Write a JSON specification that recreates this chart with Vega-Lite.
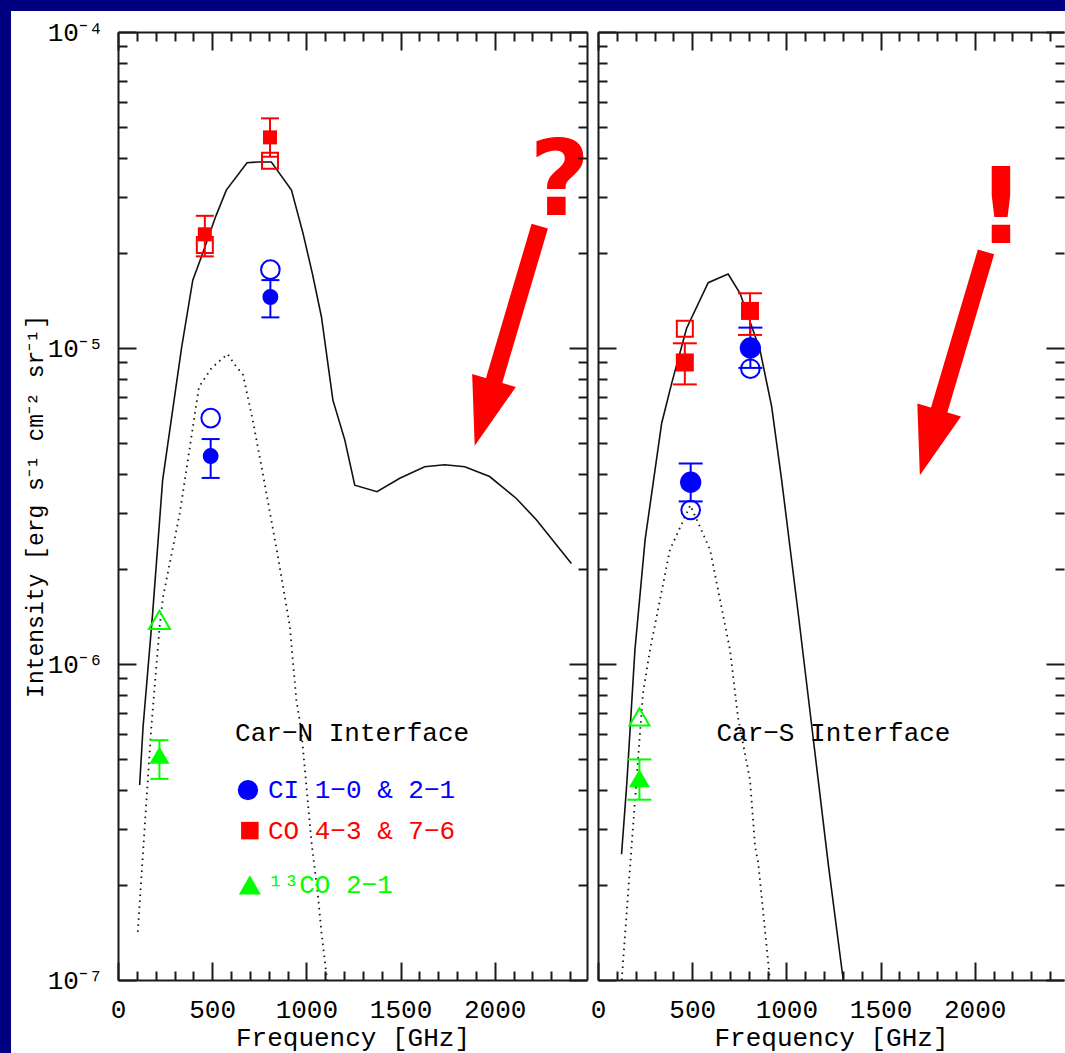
{
  "$schema": "https://vega.github.io/schema/vega-lite/v6.json",
  "background": "#000080",
  "padding": {"left": 11, "top": 11, "right": 0, "bottom": 0},
  "bounds": "flush",
  "spacing": 11,
  "config": {"view": {"stroke": null}},
  "datasets": {
    "solidN": [
      {"f": 115, "I": 4.14e-7}, {"f": 133, "I": 6.32e-7}, {"f": 184, "I": 1.449e-6}, {"f": 237, "I": 3.82e-6},
      {"f": 337, "I": 9.98e-6}, {"f": 397, "I": 1.64e-5}, {"f": 443, "I": 1.945e-5}, {"f": 519, "I": 2.61e-5},
      {"f": 575, "I": 3.16e-5}, {"f": 685, "I": 3.855e-5}, {"f": 743, "I": 3.88e-5}, {"f": 814, "I": 3.88e-5},
      {"f": 921, "I": 3.16e-5}, {"f": 982, "I": 2.31e-5}, {"f": 1032, "I": 1.72e-5}, {"f": 1080, "I": 1.256e-5},
      {"f": 1141, "I": 6.84e-6}, {"f": 1204, "I": 5.12e-6}, {"f": 1257, "I": 3.68e-6}, {"f": 1375, "I": 3.51e-6},
      {"f": 1496, "I": 3.87e-6}, {"f": 1628, "I": 4.21e-6}, {"f": 1734, "I": 4.27e-6}, {"f": 1841, "I": 4.21e-6},
      {"f": 1973, "I": 3.92e-6}, {"f": 2115, "I": 3.34e-6}, {"f": 2221, "I": 2.86e-6}, {"f": 2407, "I": 2.08e-6}
    ],
    "dotN": [
      {"f": 105, "I": 1.42e-7}, {"f": 177, "I": 6.32e-7}, {"f": 221, "I": 1.31e-6}, {"f": 239, "I": 1.63e-6},
      {"f": 328, "I": 3.0e-6}, {"f": 430, "I": 7.53e-6}, {"f": 497, "I": 8.65e-6}, {"f": 582, "I": 9.57e-6},
      {"f": 619, "I": 8.87e-6}, {"f": 664, "I": 8.22e-6}, {"f": 717, "I": 5.85e-6}, {"f": 770, "I": 3.97e-6},
      {"f": 849, "I": 2.19e-6}, {"f": 912, "I": 1.32e-6}, {"f": 947, "I": 7.69e-7}, {"f": 974, "I": 6.1e-7},
      {"f": 1027, "I": 2.74e-7}, {"f": 1062, "I": 1.84e-7}, {"f": 1080, "I": 1.42e-7}, {"f": 1110, "I": 1.0e-7}
    ],
    "solidS": [
      {"f": 125, "I": 2.5e-7}, {"f": 153, "I": 4.19e-7}, {"f": 196, "I": 1.107e-6}, {"f": 250, "I": 2.47e-6},
      {"f": 338, "I": 5.78e-6}, {"f": 391, "I": 7.73e-6}, {"f": 470, "I": 1.153e-5}, {"f": 585, "I": 1.61e-5},
      {"f": 691, "I": 1.714e-5}, {"f": 754, "I": 1.49e-5}, {"f": 860, "I": 9.86e-6}, {"f": 922, "I": 6.52e-6},
      {"f": 975, "I": 3.82e-6}, {"f": 1019, "I": 2.35e-6}, {"f": 1063, "I": 1.445e-6}, {"f": 1116, "I": 7.89e-7},
      {"f": 1169, "I": 4.3e-7}, {"f": 1222, "I": 2.34e-7}, {"f": 1302, "I": 1.0e-7}
    ],
    "dotS": [
      {"f": 126, "I": 1.0e-7}, {"f": 178, "I": 2.64e-7}, {"f": 239, "I": 8.09e-7}, {"f": 276, "I": 1.107e-6},
      {"f": 382, "I": 2.3e-6}, {"f": 490, "I": 3.18e-6}, {"f": 595, "I": 2.3e-6}, {"f": 701, "I": 1.107e-6},
      {"f": 743, "I": 6.79e-7}, {"f": 807, "I": 4.3e-7}, {"f": 834, "I": 2.64e-7}, {"f": 851, "I": 2.34e-7},
      {"f": 913, "I": 1.0e-7}
    ],
    "ptsN": [
      {"sp": "CI", "filled": true, "f": 809, "I": 1.45e-5, "lo": 1.25e-5, "hi": 1.64e-5},
      {"sp": "CI", "filled": false, "f": 809, "I": 1.77e-5},
      {"sp": "CI", "filled": true, "f": 492, "I": 4.55e-6, "lo": 3.88e-6, "hi": 5.15e-6},
      {"sp": "CI", "filled": false, "f": 492, "I": 6.0e-6},
      {"sp": "CO", "filled": true, "f": 461, "I": 2.29e-5, "lo": 1.95e-5, "hi": 2.62e-5},
      {"sp": "CO", "filled": false, "f": 461, "I": 2.12e-5},
      {"sp": "CO", "filled": true, "f": 807, "I": 4.64e-5, "lo": 4.03e-5, "hi": 5.33e-5},
      {"sp": "CO", "filled": false, "f": 807, "I": 3.91e-5},
      {"sp": "13CO", "filled": true, "f": 220, "I": 5.15e-7, "lo": 4.33e-7, "hi": 5.74e-7},
      {"sp": "13CO", "filled": false, "f": 220, "I": 1.38e-6}
    ],
    "ptsS": [
      {"sp": "CI", "filled": true, "f": 809, "I": 1.0e-5, "lo": 8.65e-6, "hi": 1.16e-5},
      {"sp": "CI", "filled": false, "f": 809, "I": 8.6e-6},
      {"sp": "CI", "filled": true, "f": 492, "I": 3.76e-6, "lo": 3.27e-6, "hi": 4.31e-6},
      {"sp": "CI", "filled": false, "f": 492, "I": 3.07e-6},
      {"sp": "CO", "filled": true, "f": 461, "I": 9.0e-6, "lo": 7.67e-6, "hi": 1.035e-5},
      {"sp": "CO", "filled": false, "f": 461, "I": 1.15e-5},
      {"sp": "CO", "filled": true, "f": 807, "I": 1.31e-5, "lo": 1.1e-5, "hi": 1.49e-5},
      {"sp": "13CO", "filled": true, "f": 220, "I": 4.35e-7, "lo": 3.72e-7, "hi": 4.99e-7},
      {"sp": "13CO", "filled": false, "f": 220, "I": 6.8e-7}
    ],
    "legendN": [
      {"sp": "CI", "label": "CI 1−0 & 2−1", "f": 690, "tf": 796, "I": 3.99e-7},
      {"sp": "CO", "label": "CO 4−3 & 7−6", "f": 700, "tf": 796, "I": 2.97e-7},
      {"sp": "13CO", "label": "¹³CO 2−1", "f": 700, "tf": 796, "I": 2.0e-7}
    ],
    "annotN": [
      {"kind": "label", "text": "Car−N Interface", "f": 1243, "I": 6.05e-7},
      {"kind": "big", "text": "?", "f": 2345, "I": 2.64e-5}
    ],
    "annotS": [
      {"kind": "label", "text": "Car−S Interface", "f": 1250, "I": 6.05e-7},
      {"kind": "big", "text": "!", "f": 2139, "I": 2.149e-5}
    ],
    "arrowN": [{"f": 2239, "I": 2.43e-5, "f2": 1981, "I2": 7.33e-6, "hf": 1945, "hI": 6.22e-6}],
    "arrowS": [{"f": 2060, "I": 2.014e-5, "f2": 1796, "I2": 5.93e-6, "hf": 1760, "hI": 5.02e-6}]
  },
  "hconcat": [
    {
      "width": 469,
      "height": 948,
      "resolve": {"axis": {"x": "independent", "y": "independent"}, "scale": {"size": "independent"}},
      "layer": [
        {
          "data": {"values": [{}]},
          "mark": {"type": "rect", "color": "#ffffff"},
          "encoding": {
            "x": {"datum": -568, "type": "quantitative", "scale": {"domain": [0, 2490], "nice": false, "zero": false}, "axis": null},
            "x2": {"datum": 5028},
            "y": {"datum": 1.1653e-4, "type": "quantitative", "scale": {"type": "log", "domain": [1e-7, 1e-4], "nice": false}, "axis": null},
            "y2": {"datum": 5.87e-8}
          }
        },
        {
          "data": {"name": "solidN"},
          "mark": {"type": "line", "color": "#111111", "strokeWidth": 1.6},
          "encoding": {
            "x": {"field": "f", "type": "quantitative", "scale": {"domain": [0, 2490], "nice": false, "zero": false},
              "axis": {"orient": "bottom", "values": [0, 500, 1000, 1500, 2000], "format": "d", "tickSize": -18, "tickWidth": 2, "tickColor": "#1a1a1a", "domain": true, "domainWidth": 2, "domainColor": "#1a1a1a", "grid": false, "labelFont": "Liberation Mono", "labelFontSize": 26, "labelColor": "#000000", "labelPadding": 34, "labelBaseline": "top", "labelFlush": false, "labelOverlap": false, "title": "Frequency [GHz]", "titleFont": "Liberation Mono", "titleFontSize": 26, "titleFontWeight": "normal", "titleColor": "#000000", "titlePadding": 2, "zindex": 1}},
            "y": {"field": "I", "type": "quantitative", "scale": {"type": "log", "domain": [1e-7, 1e-4], "nice": false},
              "axis": {"orient": "left", "values": [1e-7, 1e-6, 1e-5, 1e-4], "tickSize": -18, "tickWidth": 2, "tickColor": "#1a1a1a", "domain": true, "domainWidth": 2, "domainColor": "#1a1a1a", "grid": false, "labelExpr": "datum.value > 5e-5 ? '10⁻⁴' : datum.value > 5e-6 ? '10⁻⁵' : datum.value > 5e-7 ? '10⁻⁶' : '10⁻⁷'", "labelFont": "Liberation Mono", "labelFontSize": 26, "labelColor": "#000000", "labelPadding": 33, "labelAlign": "right", "labelBaseline": "middle", "labelOverlap": false, "title": "Intensity [erg s⁻¹ cm⁻² sr⁻¹]", "titleFont": "Liberation Mono", "titleFontSize": 23, "titleFontWeight": "normal", "titleColor": "#000000", "titlePadding": 0, "zindex": 1}}
          }
        },
        {
          "data": {"name": "dotN"},
          "mark": {"type": "line", "color": "#111111", "strokeWidth": 1.8, "strokeDash": [1.5, 4.5]},
          "encoding": {
            "x": {"field": "f", "type": "quantitative", "scale": {"domain": [0, 2490], "nice": false, "zero": false},
              "axis": {"orient": "bottom", "values": [100, 200, 300, 400, 600, 700, 800, 900, 1100, 1200, 1300, 1400, 1600, 1700, 1800, 1900, 2100, 2200, 2300, 2400], "tickSize": -9, "tickWidth": 2, "tickColor": "#1a1a1a", "domain": false, "labels": false, "grid": false, "title": null, "zindex": 1}},
            "y": {"field": "I", "type": "quantitative", "scale": {"type": "log", "domain": [1e-7, 1e-4], "nice": false},
              "axis": {"orient": "left", "values": [2e-7, 3e-7, 4e-7, 5e-7, 6e-7, 7e-7, 8e-7, 9e-7, 2e-6, 3e-6, 4e-6, 5e-6, 6e-6, 7e-6, 8e-6, 9e-6, 2e-5, 3e-5, 4e-5, 5e-5, 6e-5, 7e-5, 8e-5, 9e-5], "tickSize": -9, "tickWidth": 2, "tickColor": "#1a1a1a", "domain": false, "labels": false, "grid": false, "title": null, "zindex": 1}}
          }
        },
        {
          "data": {"name": "ptsN"},
          "transform": [{"filter": "isValid(datum.lo)"}],
          "mark": {"type": "rule", "strokeWidth": 2},
          "encoding": {
            "x": {"field": "f", "type": "quantitative", "scale": {"domain": [0, 2490], "nice": false, "zero": false},
              "axis": {"orient": "top", "values": [0, 500, 1000, 1500, 2000], "tickSize": -18, "tickWidth": 2, "tickColor": "#1a1a1a", "domain": true, "domainWidth": 2, "domainColor": "#1a1a1a", "labels": false, "grid": false, "title": null, "zindex": 1}},
            "y": {"field": "lo", "type": "quantitative", "scale": {"type": "log", "domain": [1e-7, 1e-4], "nice": false},
              "axis": {"orient": "right", "values": [1e-7, 1e-6, 1e-5, 1e-4], "tickSize": -18, "tickWidth": 2, "tickColor": "#1a1a1a", "domain": true, "domainWidth": 2, "domainColor": "#1a1a1a", "labels": false, "grid": false, "title": null, "zindex": 1}},
            "y2": {"field": "hi"},
            "color": {"field": "sp", "type": "nominal", "scale": {"domain": ["CI", "CO", "13CO"], "range": ["#0000ff", "#ff0000", "#00ff00"]}, "legend": null}
          }
        },
        {
          "data": {"name": "ptsN"},
          "transform": [{"filter": "isValid(datum.hi)"}],
          "mark": {"type": "tick", "orient": "horizontal", "size": 18, "thickness": 2, "opacity": 1},
          "encoding": {
            "x": {"field": "f", "type": "quantitative", "scale": {"domain": [0, 2490], "nice": false, "zero": false},
              "axis": {"orient": "top", "values": [100, 200, 300, 400, 600, 700, 800, 900, 1100, 1200, 1300, 1400, 1600, 1700, 1800, 1900, 2100, 2200, 2300, 2400], "tickSize": -9, "tickWidth": 2, "tickColor": "#1a1a1a", "domain": false, "labels": false, "grid": false, "title": null, "zindex": 1}},
            "y": {"field": "hi", "type": "quantitative", "scale": {"type": "log", "domain": [1e-7, 1e-4], "nice": false},
              "axis": {"orient": "right", "values": [2e-7, 3e-7, 4e-7, 5e-7, 6e-7, 7e-7, 8e-7, 9e-7, 2e-6, 3e-6, 4e-6, 5e-6, 6e-6, 7e-6, 8e-6, 9e-6, 2e-5, 3e-5, 4e-5, 5e-5, 6e-5, 7e-5, 8e-5, 9e-5], "tickSize": -9, "tickWidth": 2, "tickColor": "#1a1a1a", "domain": false, "labels": false, "grid": false, "title": null, "zindex": 1}},
            "color": {"field": "sp", "type": "nominal", "scale": {"domain": ["CI", "CO", "13CO"], "range": ["#0000ff", "#ff0000", "#00ff00"]}, "legend": null}
          }
        },
        {
          "data": {"name": "ptsN"},
          "transform": [{"filter": "isValid(datum.lo)"}],
          "mark": {"type": "tick", "orient": "horizontal", "size": 18, "thickness": 2, "opacity": 1},
          "encoding": {
            "x": {"field": "f", "type": "quantitative", "scale": {"domain": [0, 2490], "nice": false, "zero": false}, "axis": null},
            "y": {"field": "lo", "type": "quantitative", "scale": {"type": "log", "domain": [1e-7, 1e-4], "nice": false}, "axis": null},
            "color": {"field": "sp", "type": "nominal", "scale": {"domain": ["CI", "CO", "13CO"], "range": ["#0000ff", "#ff0000", "#00ff00"]}, "legend": null}
          }
        },
        {
          "data": {"name": "ptsN"},
          "transform": [{"filter": "!datum.filled"}],
          "mark": {"type": "point", "filled": false, "strokeWidth": 2, "opacity": 1},
          "encoding": {
            "x": {"field": "f", "type": "quantitative", "scale": {"domain": [0, 2490], "nice": false, "zero": false}, "axis": null},
            "y": {"field": "I", "type": "quantitative", "scale": {"type": "log", "domain": [1e-7, 1e-4], "nice": false}, "axis": null},
            "color": {"field": "sp", "type": "nominal", "scale": {"domain": ["CI", "CO", "13CO"], "range": ["#0000ff", "#ff0000", "#00ff00"]}, "legend": null},
            "shape": {"field": "sp", "type": "nominal", "scale": {"domain": ["CI", "CO", "13CO"], "range": ["circle", "square", "triangle-up"]}, "legend": null},
            "size": {"field": "sp", "type": "nominal", "scale": {"type": "ordinal", "domain": ["CI", "CO", "13CO"], "range": [346, 256, 441]}, "legend": null}
          }
        },
        {
          "data": {"name": "ptsN"},
          "transform": [{"filter": "datum.filled"}],
          "mark": {"type": "point", "filled": true, "opacity": 1},
          "encoding": {
            "x": {"field": "f", "type": "quantitative", "scale": {"domain": [0, 2490], "nice": false, "zero": false}, "axis": null},
            "y": {"field": "I", "type": "quantitative", "scale": {"type": "log", "domain": [1e-7, 1e-4], "nice": false}, "axis": null},
            "color": {"field": "sp", "type": "nominal", "scale": {"domain": ["CI", "CO", "13CO"], "range": ["#0000ff", "#ff0000", "#00ff00"]}, "legend": null},
            "shape": {"field": "sp", "type": "nominal", "scale": {"domain": ["CI", "CO", "13CO"], "range": ["circle", "square", "triangle-up"]}, "legend": null},
            "size": {"field": "sp", "type": "nominal", "scale": {"type": "ordinal", "domain": ["CI", "CO", "13CO"], "range": [254, 196, 400]}, "legend": null}
          }
        },
        {
          "data": {"name": "legendN"},
          "mark": {"type": "point", "filled": true, "opacity": 1},
          "encoding": {
            "x": {"field": "f", "type": "quantitative", "scale": {"domain": [0, 2490], "nice": false, "zero": false}, "axis": null},
            "y": {"field": "I", "type": "quantitative", "scale": {"type": "log", "domain": [1e-7, 1e-4], "nice": false}, "axis": null},
            "color": {"field": "sp", "type": "nominal", "scale": {"domain": ["CI", "CO", "13CO"], "range": ["#0000ff", "#ff0000", "#00ff00"]}, "legend": null},
            "shape": {"field": "sp", "type": "nominal", "scale": {"domain": ["CI", "CO", "13CO"], "range": ["circle", "square", "triangle-up"]}, "legend": null},
            "size": {"field": "sp", "type": "nominal", "scale": {"type": "ordinal", "domain": ["CI", "CO", "13CO"], "range": [415, 306, 484]}, "legend": null}
          }
        },
        {
          "data": {"name": "legendN"},
          "mark": {"type": "text", "align": "left", "baseline": "middle", "font": "Liberation Mono", "fontSize": 26},
          "encoding": {
            "x": {"field": "tf", "type": "quantitative", "scale": {"domain": [0, 2490], "nice": false, "zero": false}, "axis": null},
            "y": {"field": "I", "type": "quantitative", "scale": {"type": "log", "domain": [1e-7, 1e-4], "nice": false}, "axis": null},
            "text": {"field": "label"},
            "color": {"field": "sp", "type": "nominal", "scale": {"domain": ["CI", "CO", "13CO"], "range": ["#0000ff", "#ff0000", "#00ff00"]}, "legend": null}
          }
        },
        {
          "data": {"name": "annotN"},
          "transform": [{"filter": "datum.kind == 'label'"}],
          "mark": {"type": "text", "align": "center", "baseline": "middle", "font": "Liberation Mono", "fontSize": 26, "color": "#000000"},
          "encoding": {
            "x": {"field": "f", "type": "quantitative", "scale": {"domain": [0, 2490], "nice": false, "zero": false}, "axis": null},
            "y": {"field": "I", "type": "quantitative", "scale": {"type": "log", "domain": [1e-7, 1e-4], "nice": false}, "axis": null},
            "text": {"field": "text"}
          }
        },
        {
          "data": {"name": "arrowN"},
          "mark": {"type": "rule", "color": "#ff0000", "strokeWidth": 17, "strokeCap": "butt"},
          "encoding": {
            "x": {"field": "f", "type": "quantitative", "scale": {"domain": [0, 2490], "nice": false, "zero": false}, "axis": null},
            "y": {"field": "I", "type": "quantitative", "scale": {"type": "log", "domain": [1e-7, 1e-4], "nice": false}, "axis": null},
            "x2": {"field": "f2"},
            "y2": {"field": "I2"}
          }
        },
        {
          "data": {"name": "arrowN"},
          "mark": {"type": "point", "filled": true, "opacity": 1, "color": "#ff0000", "shape": "M0,1L-0.67,-1L0.67,-1Z", "size": 4624, "angle": 16.5},
          "encoding": {
            "x": {"field": "hf", "type": "quantitative", "scale": {"domain": [0, 2490], "nice": false, "zero": false}, "axis": null},
            "y": {"field": "hI", "type": "quantitative", "scale": {"type": "log", "domain": [1e-7, 1e-4], "nice": false}, "axis": null}
          }
        },
        {
          "data": {"name": "annotN"},
          "transform": [{"filter": "datum.kind == 'big'"}],
          "mark": {"type": "text", "align": "center", "baseline": "alphabetic", "font": "DejaVu Sans", "fontWeight": "bold", "fontSize": 105, "color": "#ff0000"},
          "encoding": {
            "x": {"field": "f", "type": "quantitative", "scale": {"domain": [0, 2490], "nice": false, "zero": false}, "axis": null},
            "y": {"field": "I", "type": "quantitative", "scale": {"type": "log", "domain": [1e-7, 1e-4], "nice": false}, "axis": null},
            "text": {"field": "text"}
          }
        }
      ]
    },
    {
      "width": 466,
      "height": 948,
      "resolve": {"axis": {"x": "independent", "y": "independent"}, "scale": {"size": "independent"}},
      "layer": [
        {
          "data": {"name": "solidS"},
          "mark": {"type": "line", "color": "#111111", "strokeWidth": 1.6},
          "encoding": {
            "x": {"field": "f", "type": "quantitative", "scale": {"domain": [0, 2474], "nice": false, "zero": false},
              "axis": {"orient": "bottom", "values": [0, 500, 1000, 1500, 2000], "format": "d", "tickSize": -18, "tickWidth": 2, "tickColor": "#1a1a1a", "domain": true, "domainWidth": 2, "domainColor": "#1a1a1a", "grid": false, "labelFont": "Liberation Mono", "labelFontSize": 26, "labelColor": "#000000", "labelPadding": 34, "labelBaseline": "top", "labelFlush": false, "labelOverlap": false, "title": "Frequency [GHz]", "titleFont": "Liberation Mono", "titleFontSize": 26, "titleFontWeight": "normal", "titleColor": "#000000", "titlePadding": 2, "zindex": 1}},
            "y": {"field": "I", "type": "quantitative", "scale": {"type": "log", "domain": [1e-7, 1e-4], "nice": false},
              "axis": {"orient": "left", "values": [1e-7, 1e-6, 1e-5, 1e-4], "tickSize": -18, "tickWidth": 2, "tickColor": "#1a1a1a", "domain": true, "domainWidth": 2, "domainColor": "#1a1a1a", "grid": false, "labels": false, "title": null, "zindex": 1}}
          }
        },
        {
          "data": {"name": "dotS"},
          "mark": {"type": "line", "color": "#111111", "strokeWidth": 1.8, "strokeDash": [1.5, 4.5]},
          "encoding": {
            "x": {"field": "f", "type": "quantitative", "scale": {"domain": [0, 2474], "nice": false, "zero": false},
              "axis": {"orient": "bottom", "values": [100, 200, 300, 400, 600, 700, 800, 900, 1100, 1200, 1300, 1400, 1600, 1700, 1800, 1900, 2100, 2200, 2300, 2400], "tickSize": -9, "tickWidth": 2, "tickColor": "#1a1a1a", "domain": false, "labels": false, "grid": false, "title": null, "zindex": 1}},
            "y": {"field": "I", "type": "quantitative", "scale": {"type": "log", "domain": [1e-7, 1e-4], "nice": false},
              "axis": {"orient": "left", "values": [2e-7, 3e-7, 4e-7, 5e-7, 6e-7, 7e-7, 8e-7, 9e-7, 2e-6, 3e-6, 4e-6, 5e-6, 6e-6, 7e-6, 8e-6, 9e-6, 2e-5, 3e-5, 4e-5, 5e-5, 6e-5, 7e-5, 8e-5, 9e-5], "tickSize": -9, "tickWidth": 2, "tickColor": "#1a1a1a", "domain": false, "labels": false, "grid": false, "title": null, "zindex": 1}}
          }
        },
        {
          "data": {"name": "ptsS"},
          "transform": [{"filter": "isValid(datum.lo)"}],
          "mark": {"type": "rule", "strokeWidth": 2},
          "encoding": {
            "x": {"field": "f", "type": "quantitative", "scale": {"domain": [0, 2474], "nice": false, "zero": false},
              "axis": {"orient": "top", "values": [0, 500, 1000, 1500, 2000], "tickSize": -18, "tickWidth": 2, "tickColor": "#1a1a1a", "domain": true, "domainWidth": 2, "domainColor": "#1a1a1a", "labels": false, "grid": false, "title": null, "zindex": 1}},
            "y": {"field": "lo", "type": "quantitative", "scale": {"type": "log", "domain": [1e-7, 1e-4], "nice": false},
              "axis": {"orient": "right", "values": [1e-7, 1e-6, 1e-5, 1e-4], "tickSize": -18, "tickWidth": 2, "tickColor": "#1a1a1a", "domain": false, "labels": false, "grid": false, "title": null, "zindex": 1}},
            "y2": {"field": "hi"},
            "color": {"field": "sp", "type": "nominal", "scale": {"domain": ["CI", "CO", "13CO"], "range": ["#0000ff", "#ff0000", "#00ff00"]}, "legend": null}
          }
        },
        {
          "data": {"name": "ptsS"},
          "transform": [{"filter": "isValid(datum.hi)"}],
          "mark": {"type": "tick", "orient": "horizontal", "size": 24, "thickness": 2, "opacity": 1},
          "encoding": {
            "x": {"field": "f", "type": "quantitative", "scale": {"domain": [0, 2474], "nice": false, "zero": false},
              "axis": {"orient": "top", "values": [100, 200, 300, 400, 600, 700, 800, 900, 1100, 1200, 1300, 1400, 1600, 1700, 1800, 1900, 2100, 2200, 2300, 2400], "tickSize": -9, "tickWidth": 2, "tickColor": "#1a1a1a", "domain": false, "labels": false, "grid": false, "title": null, "zindex": 1}},
            "y": {"field": "hi", "type": "quantitative", "scale": {"type": "log", "domain": [1e-7, 1e-4], "nice": false},
              "axis": {"orient": "right", "values": [2e-7, 3e-7, 4e-7, 5e-7, 6e-7, 7e-7, 8e-7, 9e-7, 2e-6, 3e-6, 4e-6, 5e-6, 6e-6, 7e-6, 8e-6, 9e-6, 2e-5, 3e-5, 4e-5, 5e-5, 6e-5, 7e-5, 8e-5, 9e-5], "tickSize": -9, "tickWidth": 2, "tickColor": "#1a1a1a", "domain": false, "labels": false, "grid": false, "title": null, "zindex": 1}},
            "color": {"field": "sp", "type": "nominal", "scale": {"domain": ["CI", "CO", "13CO"], "range": ["#0000ff", "#ff0000", "#00ff00"]}, "legend": null}
          }
        },
        {
          "data": {"name": "ptsS"},
          "transform": [{"filter": "isValid(datum.lo)"}],
          "mark": {"type": "tick", "orient": "horizontal", "size": 24, "thickness": 2, "opacity": 1},
          "encoding": {
            "x": {"field": "f", "type": "quantitative", "scale": {"domain": [0, 2474], "nice": false, "zero": false}, "axis": null},
            "y": {"field": "lo", "type": "quantitative", "scale": {"type": "log", "domain": [1e-7, 1e-4], "nice": false}, "axis": null},
            "color": {"field": "sp", "type": "nominal", "scale": {"domain": ["CI", "CO", "13CO"], "range": ["#0000ff", "#ff0000", "#00ff00"]}, "legend": null}
          }
        },
        {
          "data": {"name": "ptsS"},
          "transform": [{"filter": "!datum.filled"}],
          "mark": {"type": "point", "filled": false, "strokeWidth": 2, "opacity": 1},
          "encoding": {
            "x": {"field": "f", "type": "quantitative", "scale": {"domain": [0, 2474], "nice": false, "zero": false}, "axis": null},
            "y": {"field": "I", "type": "quantitative", "scale": {"type": "log", "domain": [1e-7, 1e-4], "nice": false}, "axis": null},
            "color": {"field": "sp", "type": "nominal", "scale": {"domain": ["CI", "CO", "13CO"], "range": ["#0000ff", "#ff0000", "#00ff00"]}, "legend": null},
            "shape": {"field": "sp", "type": "nominal", "scale": {"domain": ["CI", "CO", "13CO"], "range": ["circle", "square", "triangle-up"]}, "legend": null},
            "size": {"field": "sp", "type": "nominal", "scale": {"type": "ordinal", "domain": ["CI", "CO", "13CO"], "range": [346, 256, 400]}, "legend": null}
          }
        },
        {
          "data": {"name": "ptsS"},
          "transform": [{"filter": "datum.filled"}],
          "mark": {"type": "point", "filled": true, "opacity": 1},
          "encoding": {
            "x": {"field": "f", "type": "quantitative", "scale": {"domain": [0, 2474], "nice": false, "zero": false}, "axis": null},
            "y": {"field": "I", "type": "quantitative", "scale": {"type": "log", "domain": [1e-7, 1e-4], "nice": false}, "axis": null},
            "color": {"field": "sp", "type": "nominal", "scale": {"domain": ["CI", "CO", "13CO"], "range": ["#0000ff", "#ff0000", "#00ff00"]}, "legend": null},
            "shape": {"field": "sp", "type": "nominal", "scale": {"domain": ["CI", "CO", "13CO"], "range": ["circle", "square", "triangle-up"]}, "legend": null},
            "size": {"field": "sp", "type": "nominal", "scale": {"type": "ordinal", "domain": ["CI", "CO", "13CO"], "range": [452, 324, 441]}, "legend": null}
          }
        },
        {
          "data": {"name": "annotS"},
          "transform": [{"filter": "datum.kind == 'label'"}],
          "mark": {"type": "text", "align": "center", "baseline": "middle", "font": "Liberation Mono", "fontSize": 26, "color": "#000000"},
          "encoding": {
            "x": {"field": "f", "type": "quantitative", "scale": {"domain": [0, 2474], "nice": false, "zero": false}, "axis": null},
            "y": {"field": "I", "type": "quantitative", "scale": {"type": "log", "domain": [1e-7, 1e-4], "nice": false}, "axis": null},
            "text": {"field": "text"}
          }
        },
        {
          "data": {"name": "arrowS"},
          "mark": {"type": "rule", "color": "#ff0000", "strokeWidth": 17, "strokeCap": "butt"},
          "encoding": {
            "x": {"field": "f", "type": "quantitative", "scale": {"domain": [0, 2474], "nice": false, "zero": false}, "axis": null},
            "y": {"field": "I", "type": "quantitative", "scale": {"type": "log", "domain": [1e-7, 1e-4], "nice": false}, "axis": null},
            "x2": {"field": "f2"},
            "y2": {"field": "I2"}
          }
        },
        {
          "data": {"name": "arrowS"},
          "mark": {"type": "point", "filled": true, "opacity": 1, "color": "#ff0000", "shape": "M0,1L-0.67,-1L0.67,-1Z", "size": 4624, "angle": 16.5},
          "encoding": {
            "x": {"field": "hf", "type": "quantitative", "scale": {"domain": [0, 2474], "nice": false, "zero": false}, "axis": null},
            "y": {"field": "hI", "type": "quantitative", "scale": {"type": "log", "domain": [1e-7, 1e-4], "nice": false}, "axis": null}
          }
        },
        {
          "data": {"name": "annotS"},
          "transform": [{"filter": "datum.kind == 'big'"}],
          "mark": {"type": "text", "align": "center", "baseline": "alphabetic", "font": "DejaVu Sans", "fontWeight": "bold", "fontSize": 105, "color": "#ff0000"},
          "encoding": {
            "x": {"field": "f", "type": "quantitative", "scale": {"domain": [0, 2474], "nice": false, "zero": false}, "axis": null},
            "y": {"field": "I", "type": "quantitative", "scale": {"type": "log", "domain": [1e-7, 1e-4], "nice": false}, "axis": null},
            "text": {"field": "text"}
          }
        }
      ]
    }
  ],
  "resolve": {"scale": {"size": "independent", "x": "independent", "y": "independent"}}
}
